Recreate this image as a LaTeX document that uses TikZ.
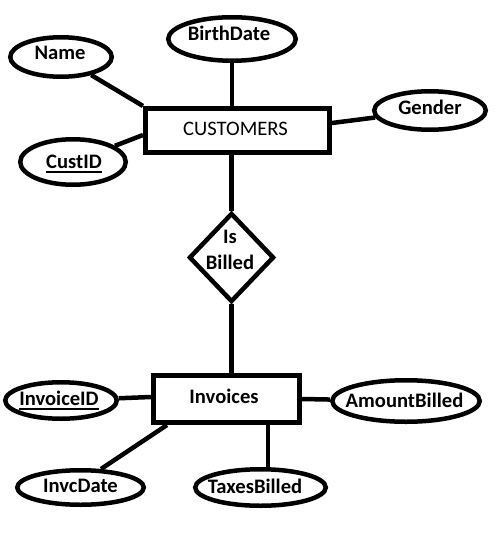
\documentclass[tikz,border=0pt]{standalone}
\usepackage{fontspec}
\setmainfont{Carlito}
\usetikzlibrary{shapes.geometric}
\newcommand\tx[3]{\makebox[0pt]{\kern#1\raisebox{#2}{#3}\kern-#1}}
\newcommand\keyul[1]{\setbox0\hbox{#1}\rlap{\rule[-4.5pt]{\wd0}{2pt}}\box0}
\begin{document}
\begin{tikzpicture}[x=1pt,y=-1pt,
  attr/.style={ellipse,draw,line width=4.5pt,inner sep=0pt,
    font=\fontsize{20.6}{24}\selectfont\bfseries,text height=13pt,text depth=0pt},
  ent/.style={rectangle,draw,line width=5pt,inner sep=0pt,
    font=\fontsize{20.6}{24}\selectfont,text height=13pt,text depth=0pt},
  rel/.style={diamond,draw,line width=4.5pt,inner sep=0pt},
  conn/.style={line width=4.5pt}]
\useasboundingbox (0,0) rectangle (501,535);
% entities
\node[ent,minimum width=184pt,minimum height=44pt] (cust) at (237.5,130.5) {\tx{-2pt}{1.7pt}{CUSTOMERS}};
\node[ent,minimum width=146pt,minimum height=47pt,font=\fontsize{20.6}{24}\selectfont\bfseries] (inv) at (226.5,399) {\tx{-2.5pt}{2pt}{Invoices}};
% relationship
\node[rel,minimum width=85pt,minimum height=89pt,
  label={[font=\fontsize{20.6}{26}\selectfont\bfseries,align=center,yshift=7.5pt,xshift=-1.5pt]center:Is\\Billed}] (isb) at (231.5,257.5) {};
% attributes
\node[attr,minimum width=127.5pt,minimum height=43.5pt] (bd) at (232,39) {\tx{-3pt}{5.3pt}{BirthDate}};
\node[attr,minimum width=101.5pt,minimum height=39.5pt] (name) at (61,57) {\tx{-1pt}{3.7pt}{Name}};
\node[attr,minimum width=111.5pt,minimum height=38.5pt] (gender) at (430,110.5) {\tx{0pt}{2pt}{Gender}};
\node[attr,minimum width=105.5pt,minimum height=45.5pt] (custid) at (73,162) {\tx{1pt}{0pt}{\keyul{CustID}}};
\node[attr,minimum width=111.5pt,minimum height=36.5pt] (invid) at (61,400.5) {\tx{-2pt}{1.5pt}{\keyul{InvoiceID}}};
\node[attr,minimum width=147.5pt,minimum height=41.5pt] (amt) at (406,401) {\tx{-1.5pt}{0pt}{AmountBilled}};
\node[attr,minimum width=126.5pt,minimum height=34.5pt] (invc) at (80.5,487.5) {\tx{0pt}{2pt}{InvcDate}};
\node[attr,minimum width=130.5pt,minimum height=36.5pt] (tax) at (260.5,487.5) {\tx{-5.5pt}{1pt}{TaxesBilled}};
% connectors
\draw[conn] (bd.south) -- (bd.south |- cust.north);
\draw[conn] (name) -- (cust.north west);
\draw[conn] (custid) -- ([yshift=-4.5pt]cust.west);
\draw[conn] ([yshift=7.5pt]cust.east) -- (gender);
\draw[conn] (isb.north |- cust.south) -- (isb.north);
\draw[conn] (isb.south) -- (isb.south |- inv.north);
\draw[conn] ([yshift=2pt]inv.west) -- (invid);
\draw[conn] (inv.east) -- (amt);
\draw[conn] ([xshift=16pt]inv.south west) -- (invc.42);
\coordinate (tb) at ([xshift=41.5pt]inv.south);
\draw[conn] (tb) -- (tb |- tax.north);
\end{tikzpicture}
\end{document}
